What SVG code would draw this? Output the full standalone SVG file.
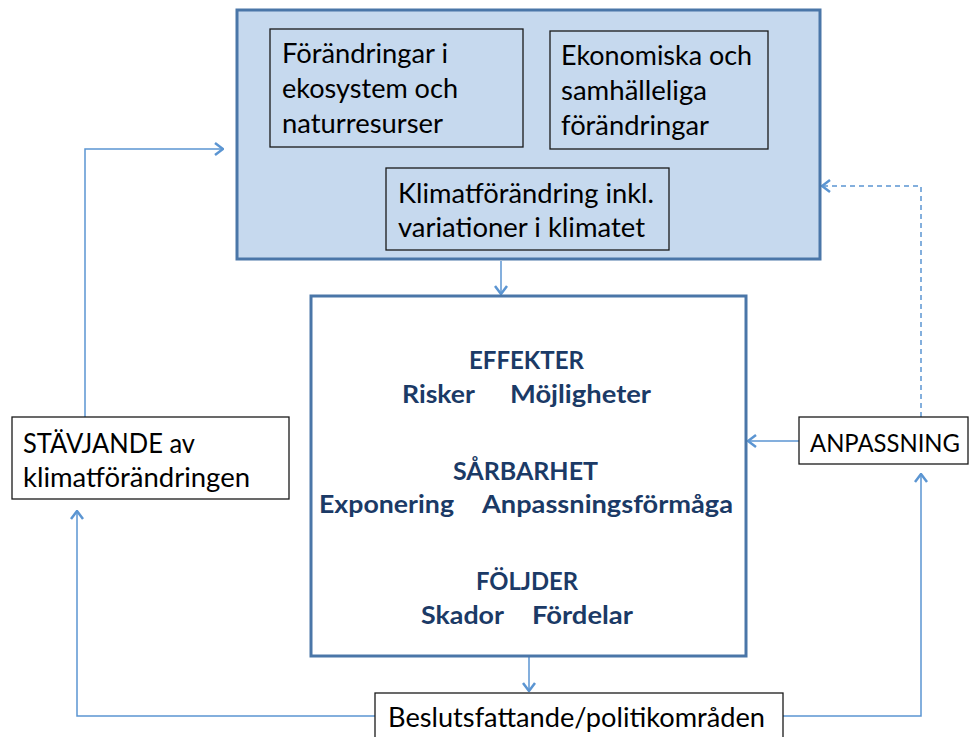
<svg xmlns="http://www.w3.org/2000/svg" width="971" height="737" viewBox="0 0 971 737">
<defs>
<style>
.bigbox{fill:#c6d9ee;stroke:#4a76a8;stroke-width:3}
.midbox{fill:#ffffff;stroke:#4a76a8;stroke-width:3}
.inbox{fill:none;stroke:#1a1a1a;stroke-width:1.3}
.wbox{fill:#ffffff;stroke:#1a1a1a;stroke-width:1.3}
.t{font-family:Lato,"Liberation Sans",sans-serif;font-size:26px;fill:#000000}
.b{font-family:Lato,"Liberation Sans",sans-serif;font-size:25px;font-weight:bold;fill:#1b3a66;text-anchor:middle}
.c{fill:none;stroke:#5b95d2;stroke-width:1.5}
.d{stroke-dasharray:5,4}
</style>
<marker id="ah" viewBox="0 0 10 14" refX="9" refY="7" markerWidth="10" markerHeight="14" markerUnits="userSpaceOnUse" orient="auto">
<path d="M1,1 L9,7 L1,13" fill="none" stroke="#5b95d2" stroke-width="2.5"/>
</marker>
</defs>
<rect width="971" height="737" fill="#ffffff"/>
<g id="connectors">
<path class="c" d="M501,261 L501,294" marker-end="url(#ah)"/>
<path class="c" d="M529,657 L529,691" marker-end="url(#ah)"/>
<path class="c" d="M799,441 L748,441" marker-end="url(#ah)"/>
<path class="c d" d="M921,417 L921,186 L822,186" marker-end="url(#ah)"/>
<path class="c" d="M783,716 L921,716 L921,474" marker-end="url(#ah)"/>
<path class="c" d="M375,716 L77,716 L77,511" marker-end="url(#ah)"/>
<path class="c" d="M85,417 L85,149 L223,149" marker-end="url(#ah)"/>
</g>
<g id="drivers">
<rect class="bigbox" x="237" y="10" width="583" height="249"/>
</g>
<g id="ekosystem">
<rect class="inbox" x="270" y="29" width="253" height="118"/>
<text class="t" x="282" y="63" textLength="166" lengthAdjust="spacingAndGlyphs">Förändringar i</text>
<text class="t" x="282" y="98" textLength="176" lengthAdjust="spacingAndGlyphs">ekosystem och</text>
<text class="t" x="282" y="133" textLength="161" lengthAdjust="spacingAndGlyphs">naturresurser</text>
</g>
<g id="ekonomiska">
<rect class="inbox" x="550" y="31" width="218" height="118"/>
<text class="t" x="561" y="65" textLength="191" lengthAdjust="spacingAndGlyphs">Ekonomiska och</text>
<text class="t" x="561" y="100" textLength="146" lengthAdjust="spacingAndGlyphs">samhälleliga</text>
<text class="t" x="561" y="135" textLength="148" lengthAdjust="spacingAndGlyphs">förändringar</text>
</g>
<g id="klimat">
<rect class="inbox" x="386" y="168" width="283" height="82"/>
<text class="t" x="398" y="203" textLength="256" lengthAdjust="spacingAndGlyphs">Klimatförändring inkl.</text>
<text class="t" x="398" y="237" textLength="247" lengthAdjust="spacingAndGlyphs">variationer i klimatet</text>
</g>
<g id="effekter">
<rect class="midbox" x="311" y="296" width="435" height="360"/>
<text class="b" x="526.5" y="369" textLength="115" lengthAdjust="spacingAndGlyphs">EFFEKTER</text>
<text class="b" x="438.5" y="403" textLength="73" lengthAdjust="spacingAndGlyphs">Risker</text>
<text class="b" x="580.5" y="403" textLength="141" lengthAdjust="spacingAndGlyphs">Möjligheter</text>
<text class="b" x="525.5" y="480" textLength="145" lengthAdjust="spacingAndGlyphs">SÅRBARHET</text>
<text class="b" x="386.5" y="513" textLength="135" lengthAdjust="spacingAndGlyphs">Exponering</text>
<text class="b" x="607.5" y="513" textLength="251" lengthAdjust="spacingAndGlyphs">Anpassningsförmåga</text>
<text class="b" x="527" y="590" textLength="102" lengthAdjust="spacingAndGlyphs">FÖLJDER</text>
<text class="b" x="462.5" y="624" textLength="83" lengthAdjust="spacingAndGlyphs">Skador</text>
<text class="b" x="582.5" y="624" textLength="101" lengthAdjust="spacingAndGlyphs">Fördelar</text>
</g>
<g id="stavjande">
<rect class="wbox" x="12" y="417" width="277" height="82"/>
<text class="t" x="23" y="453" textLength="172" lengthAdjust="spacingAndGlyphs">STÄVJANDE av</text>
<text class="t" x="23" y="487" textLength="227" lengthAdjust="spacingAndGlyphs">klimatförändringen</text>
</g>
<g id="anpassning">
<rect class="wbox" x="799" y="417" width="169" height="47"/>
<text class="t" x="810" y="452" style="font-size:24.5px" textLength="150" lengthAdjust="spacingAndGlyphs">ANPASSNING</text>
</g>
<g id="beslut">
<rect class="wbox" x="375" y="693" width="408" height="50"/>
<text class="t" x="388" y="727" textLength="377" lengthAdjust="spacingAndGlyphs">Beslutsfattande/politikområden</text>
</g>
</svg>
